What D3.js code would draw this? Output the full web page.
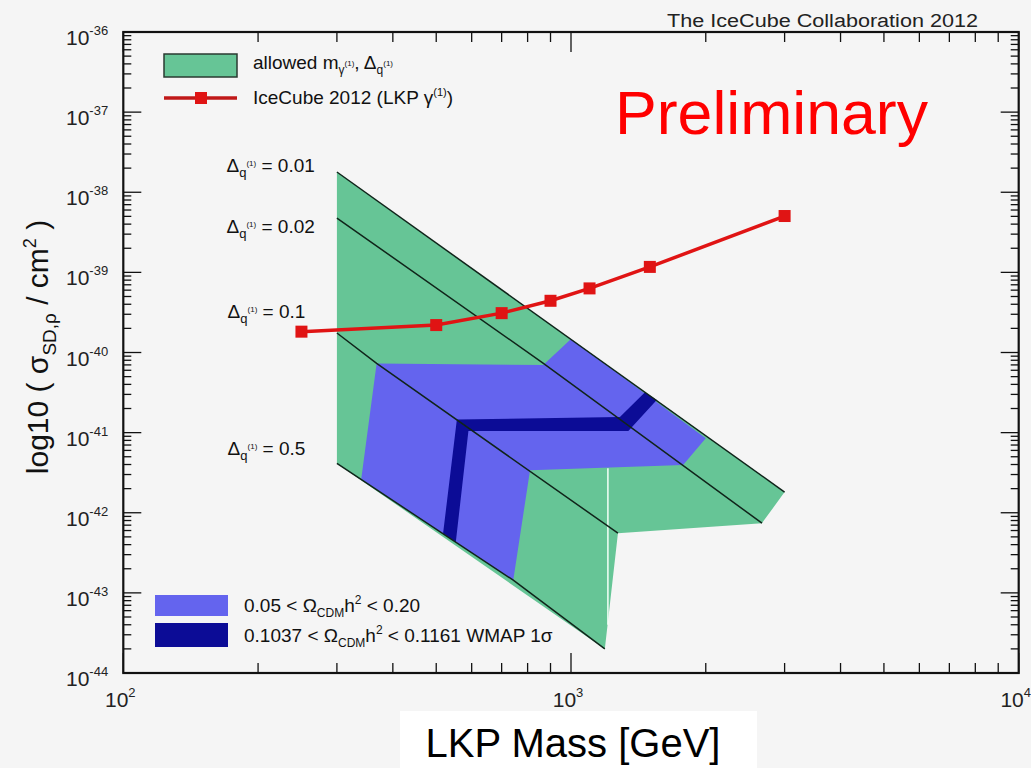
<!DOCTYPE html>
<html>
<head>
<meta charset="utf-8">
<script src="https://cdn.jsdelivr.net/npm/d3@7"></script>
<style>
  body { margin: 0; background: #f5f5f5; }
  svg { display: block; font-family: "Liberation Sans", Arial, sans-serif; }
</style>
</head>
<body>
<svg id="chart" width="1031" height="768"></svg>
<script>
// axis ranges
const massDomain = [1e2, 1e4];
const sigmaDomain = [1e-44, 1e-36];

// IceCube 2012 limit (LKP gamma(1))
const icecubeMass = [250, 500, 700, 900, 1100, 1500, 3000];
const icecubeSigma = [1.82e-40, 2.20e-40, 3.10e-40, 4.42e-40, 6.31e-40, 1.17e-39, 5.05e-39];

// allowed m, Delta region (outline)
const allowedMass = [300, 3000, 2670, 1273, 1190, 300];
const allowedSigma = [1.79e-38, 1.81e-42, 7.41e-43, 5.56e-43, 2.0e-44, 4.12e-42];

// 0.05 < Omega h^2 < 0.20 region
const relicMass = [368, 867, 1000, 2000, 1780, 810, 743, 340];
const relicSigma = [7.31e-41, 6.97e-41, 1.47e-40, 8.53e-42, 3.93e-42, 3.40e-42, 1.44e-43, 2.63e-42];

// WMAP 1 sigma band
const wmapMass = [518, 556, 1286, 1463, 1554, 1343, 590, 553];
const wmapSigma = [5.53e-43, 1.46e-41, 1.57e-41, 3.2e-41, 2.55e-41, 1.05e-41, 1.05e-41, 4.3e-43];

// lines of constant Delta_q(1)
const deltaNames = ["0.01", "0.02", "0.1", "0.5"];
const deltaMass = [[300, 3000], [300, 866, 2670], [300, 368, 1273], [300, 743, 1190]];
const deltaSigma = [[1.79e-38, 1.81e-42], [4.76e-39, 7.38e-41, 7.41e-43], [1.75e-40, 7.31e-41, 5.56e-43], [4.12e-42, 1.44e-43, 2.0e-44]];
const deltaLabelMass = [170, 170, 171, 171];
const deltaLabelSigma = [1.80e-38, 3.10e-39, 2.69e-40, 5.24e-42];

// seam inside the allowed region
const seamMass = [1209, 1209];
const seamSigma = [3.6e-42, 4e-44];

const green = "#66c596";
const blue = "#6464ee";
const darkBlue = "#0c0c96";
const red = "#e01414";

const svg = d3.select("#chart");

const plotLeft = 123.3, plotRight = 1018.7, plotTop = 32, plotBottom = 673;

const x = d3.scaleLog().domain(massDomain).range([plotLeft, plotRight]);
const y = d3.scaleLog().domain(sigmaDomain).range([plotBottom, plotTop]);

const line = d3.line().x(d => x(d[0])).y(d => y(d[1]));
const zipPts = (ms, ss) => ms.map((m, i) => [m, ss[i]]);

// helper for text with sub/superscripts: parts = [[text, size, dy], ...]
function richText(g, px, py, parts, opts = {}) {
  const t = g.append("text").attr("x", px).attr("y", py).attr("fill", opts.fill || "#111");
  if (opts.anchor) t.attr("text-anchor", opts.anchor);
  if (opts.transform) t.attr("transform", opts.transform);
  parts.forEach(p => {
    t.append("tspan").text(p[0]).attr("font-size", p[1]).attr("dy", p[2] || 0);
  });
  return t;
}

// regions
svg.append("path")
  .attr("d", line(zipPts(allowedMass, allowedSigma)) + "Z")
  .attr("fill", green);

svg.append("path")
  .attr("d", line(zipPts(relicMass, relicSigma)) + "Z")
  .attr("fill", blue);

svg.append("path")
  .attr("d", line(zipPts(wmapMass, wmapSigma)) + "Z")
  .attr("fill", darkBlue);

svg.append("path")
  .attr("d", line(zipPts(seamMass, seamSigma)))
  .attr("stroke", "#f4fff8").attr("stroke-width", 1.5).attr("fill", "none");

// Delta lines
deltaNames.forEach((name, i) => {
  svg.append("path")
    .attr("d", line(zipPts(deltaMass[i], deltaSigma[i])))
    .attr("fill", "none")
    .attr("stroke", "#10241a")
    .attr("stroke-width", 1.5);

  richText(svg, x(deltaLabelMass[i]), y(deltaLabelSigma[i]), [
    ["\u0394", 19, 0], ["q", 13, 5], ["(1)", 8, -11], [" = " + name, 19, 6]
  ]);
});

// IceCube limit
const icecubePts = zipPts(icecubeMass, icecubeSigma);
svg.append("path")
  .attr("d", line(icecubePts))
  .attr("fill", "none")
  .attr("stroke", red)
  .attr("stroke-width", 3.5);

svg.selectAll("rect.pt")
  .data(icecubePts)
  .enter()
  .append("rect")
  .attr("class", "pt")
  .attr("x", d => x(d[0]) - 6)
  .attr("y", d => y(d[1]) - 6)
  .attr("width", 12)
  .attr("height", 12)
  .attr("fill", red);

// frame and ticks
const axisG = svg.append("g").attr("stroke", "#111");

const xTicks = [];
d3.range(2, 4).forEach(e => d3.range(1, 10).forEach(k => xTicks.push(k * Math.pow(10, e))));
xTicks.push(1e4);
const yTicks = [];
d3.range(-44, -36).forEach(e => d3.range(1, 10).forEach(k => yTicks.push(k * Math.pow(10, e))));
yTicks.push(1e-36);

const isMajor = v => Math.abs(Math.log10(v) - Math.round(Math.log10(v))) < 1e-6;

xTicks.forEach(v => {
  const len = isMajor(v) ? 20 : 10;
  axisG.append("line").attr("x1", x(v)).attr("x2", x(v)).attr("y1", plotBottom).attr("y2", plotBottom - len).attr("stroke-width", 1.3);
  axisG.append("line").attr("x1", x(v)).attr("x2", x(v)).attr("y1", plotTop).attr("y2", plotTop + len).attr("stroke-width", 1.3);
});
yTicks.forEach(v => {
  const len = isMajor(v) ? 18 : 8;
  axisG.append("line").attr("y1", y(v)).attr("y2", y(v)).attr("x1", plotLeft).attr("x2", plotLeft + len).attr("stroke-width", 1.3);
  axisG.append("line").attr("y1", y(v)).attr("y2", y(v)).attr("x1", plotRight).attr("x2", plotRight - len).attr("stroke-width", 1.3);
});

axisG.append("rect")
  .attr("x", plotLeft).attr("y", plotTop)
  .attr("width", plotRight - plotLeft).attr("height", plotBottom - plotTop)
  .attr("fill", "none").attr("stroke-width", 2.2);

// tick labels
yTicks.filter(isMajor).forEach(v => {
  const e = Math.round(Math.log10(v));
  richText(svg, 66, y(v) + 13, [["10", 21, 0], [String(e), 13, -10]], { fill: "#222" });
});
xTicks.filter(isMajor).forEach(v => {
  const e = Math.round(Math.log10(v));
  richText(svg, x(v) - 3, 707, [["10", 21, 0], [String(e), 13, -10]], { anchor: "middle", fill: "#222" });
});

// y axis title
richText(svg, 0, 0, [
  ["log10 ( \u03c3", 30, 0], ["SD,\u03c1", 19, 8], [" / cm", 30, -8], ["2", 18, -12], [" )", 30, 12]
], { anchor: "middle", transform: "translate(48,347) rotate(-90)", fill: "#111" });

// x axis title box
svg.append("rect").attr("x", 400).attr("y", 711).attr("width", 357).attr("height", 57).attr("fill", "#ffffff");
svg.append("text").attr("x", 573).attr("y", 757).attr("text-anchor", "middle")
  .attr("font-size", 40).attr("fill", "#000").text("LKP Mass [GeV]");

// header texts
svg.append("text").attr("x", 978).attr("y", 27).attr("text-anchor", "end")
  .attr("font-size", 18).attr("fill", "#222")
  .attr("textLength", 311).attr("lengthAdjust", "spacingAndGlyphs")
  .text("The IceCube Collaboration 2012");

svg.append("text").attr("x", 615).attr("y", 134)
  .attr("font-size", 62).attr("fill", "#ff0000")
  .attr("textLength", 313).attr("lengthAdjust", "spacingAndGlyphs")
  .text("Preliminary");

// top legend
svg.append("rect").attr("x", 164).attr("y", 54).attr("width", 73).attr("height", 23)
  .attr("fill", green).attr("stroke", "#2a3a30").attr("stroke-width", 1.5);
richText(svg, 253, 69, [
  ["allowed m", 19, 0], ["\u03b3", 12, 5], ["(1)", 8, -8], [", \u0394", 19, 3], ["q", 12, 5], ["(1)", 8, -8]
]);
svg.append("line").attr("x1", 164).attr("x2", 237).attr("y1", 98).attr("y2", 98)
  .attr("stroke", "#c01818").attr("stroke-width", 3.5);
svg.append("rect").attr("x", 195).attr("y", 92).attr("width", 12).attr("height", 12).attr("fill", red);
richText(svg, 253, 104, [
  ["IceCube 2012 (LKP \u03b3", 19, 0], ["(1)", 11, -8], [")", 19, 8]
]);

// bottom legend
svg.append("rect").attr("x", 155).attr("y", 595).attr("width", 73).attr("height", 21).attr("fill", blue);
svg.append("rect").attr("x", 155).attr("y", 623).attr("width", 73).attr("height", 24).attr("fill", darkBlue);
richText(svg, 244, 612, [
  ["0.05 < \u03a9", 19, 0], ["CDM", 12, 5], ["h", 19, -5], ["2", 12, -8], [" < 0.20", 19, 8]
]);
richText(svg, 244, 642, [
  ["0.1037 < \u03a9", 19, 0], ["CDM", 12, 5], ["h", 19, -5], ["2", 12, -8], [" < 0.1161 WMAP 1\u03c3", 19, 8]
]);
</script>
</body>
</html>
